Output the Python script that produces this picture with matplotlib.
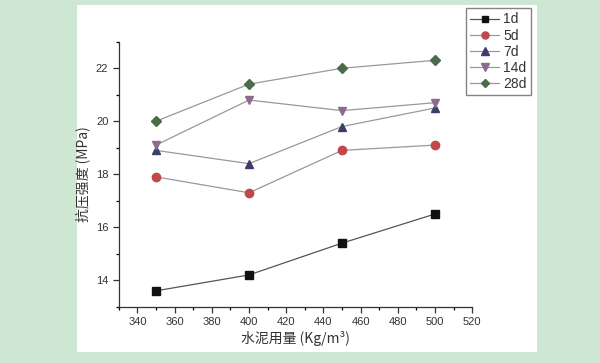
import matplotlib
matplotlib.use("Agg")
import matplotlib.pyplot as plt
from matplotlib.patches import Rectangle
from matplotlib.ticker import MultipleLocator

plt.rcParams['font.family'] = ['Liberation Sans', 'Noto Sans CJK SC', 'DejaVu Sans']

# 水泥用量 (kg/m3)
cement = [350, 400, 450, 500]
# 抗压强度 (MPa) for each curing age
s_1d = [13.6, 14.2, 15.4, 16.5]
s_5d = [17.9, 17.3, 18.9, 19.1]
s_7d = [18.9, 18.4, 19.8, 20.5]
s_14d = [19.1, 20.8, 20.4, 20.7]
s_28d = [20.0, 21.4, 22.0, 22.3]
labels = ["1d", "5d", "7d", "14d", "28d"]

series = [s_1d, s_5d, s_7d, s_14d, s_28d]
markers = ["s", "o", "^", "v", "D"]
colors = ["#111111", "#c0474a", "#3d3d6b", "#8c6c8e", "#4b6b4b"]
line_colors = ["#555555", "#999999", "#999999", "#999999", "#999999"]
sizes = [5.5, 6, 6, 6, 5]

fig = plt.figure(figsize=(6, 3.63), dpi=100, facecolor="#cde7d2")
# white picture area
fig.patches.append(Rectangle((77 / 600, 1 - 352 / 363), 460 / 600, 347 / 363,
                             transform=fig.transFigure, facecolor="white",
                             edgecolor="none", zorder=-10))

ax = fig.add_axes([0.198, 0.155, 0.589, 0.730])
ax.set_facecolor("none")
for ys, mk, c, lc, ms, lb in zip(series, markers, colors, line_colors, sizes, labels):
    ax.plot(cement, ys, color=lc, lw=0.9, marker=mk, ms=ms,
            mfc=c, mec=c, label=lb)

ax.set_xlim(330, 520)
ax.set_ylim(13, 23)
ax.xaxis.set_major_locator(MultipleLocator(20))
ax.xaxis.set_minor_locator(MultipleLocator(10))
ax.yaxis.set_major_locator(MultipleLocator(2))
ax.yaxis.set_minor_locator(MultipleLocator(1))
ax.tick_params(which="major", direction="out", length=4, width=0.9,
               labelsize=8, colors="#333333")
ax.tick_params(which="minor", direction="out", length=2.5, width=0.9)
for side in ["top", "right"]:
    ax.spines[side].set_visible(False)
for side in ["left", "bottom"]:
    ax.spines[side].set_color("#333333")
    ax.spines[side].set_linewidth(0.9)

cjk = ['Noto Sans CJK SC', 'DejaVu Sans']
ax.set_xlabel("水泥用量 (Kg/m³)", fontsize=10, family=cjk, color="#333333", labelpad=3)
ax.set_ylabel("抗压强度 (MPa)", fontsize=10, family=cjk, color="#333333", labelpad=4)

leg = ax.legend(loc="upper right", bbox_to_anchor=(531 / 600, 1 - 8.3 / 363),
                bbox_transform=fig.transFigure, fontsize=10, frameon=True,
                fancybox=False, edgecolor="#666666", handlelength=2.1,
                labelspacing=0.15, borderpad=0.3, handletextpad=0.3,
                borderaxespad=0, markerscale=0.85)
leg.get_frame().set_linewidth(1.0)
for t in leg.get_texts():
    t.set_color("#333333")

fig.savefig("out.png", dpi=100, facecolor=fig.get_facecolor())
